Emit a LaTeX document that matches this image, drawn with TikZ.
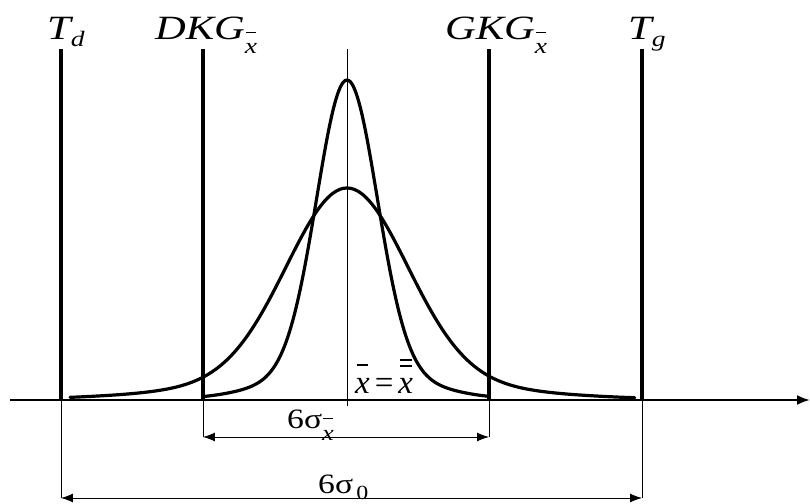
\documentclass[tikz,border=0pt]{standalone}
\usepackage{fontspec}
\usepackage{graphicx}
\setmainfont{Liberation Serif}
\usetikzlibrary{arrows.meta,positioning}
\newcommand{\barmark}{\rule{0.36em}{0.06em}}
\newcommand{\onebar}[2][0.84em]{\ooalign{\hfil\raisebox{#1}{\barmark}\hfil\cr#2\cr}}
\newcommand{\twobar}[1]{\ooalign{\hfil\raisebox{0.80em}{\barmark}\hfil\cr\hfil\raisebox{0.96em}{\barmark}\hfil\cr#1\cr}}
\newcommand{\lowsub}[2]{\raisebox{-#1}{\fontsize{22}{24}\selectfont #2}}
\newcommand{\wide}[2][1.25]{\scalebox{#1}[1]{#2}}
\tikzset{
  limit/.style={line width=3.2pt},
  curve/.style={line width=3.2pt,line join=round,line cap=round},
  axis/.style={line width=2.2pt,-{Latex[length=13pt,width=10pt]}},
  guide/.style={line width=0.9pt},
  dim/.style={line width=0.9pt,{Latex[length=12pt,width=9pt]}-{Latex[length=12pt,width=9pt]}},
  lbl/.style={inner sep=0pt,anchor=base west,font=\fontsize{34}{38}\selectfont\itshape},
  num/.style={lbl,font=\fontsize{28}{32}\selectfont\upshape}
}
\begin{document}
\begin{tikzpicture}[x=1pt,y=1pt]
\useasboundingbox (-347,-103) rectangle (463,400);
% axis
\coordinate (start) at (-337,0);
\coordinate (end) at (463,0);
\draw[axis] (start) -- (end);
% tolerance and control limits
\foreach \name/\pos in {Td/-286,DKG/-144,GKG/142,Tg/295}{
  \coordinate (\name) at (\pos,0);
  \coordinate (\name-top) at (\pos,351);
}
\draw[limit] (Td) -- (Td-top);
\draw[limit] (DKG) -- (DKG-top);
\draw[limit] (GKG) -- (GKG-top);
\draw[limit,line width=4pt] (Tg) -- (Tg-top);
% centre line
\coordinate (mid-low) at (0,-6);
\coordinate (mid-top) at (0,351);
\draw[guide] (mid-low) -- (mid-top);
% distributions
\draw[curve] plot[smooth,samples=120,domain=-1.43:1.42,variable=\t]
  ({100*\t},{320*(0.9*exp(-\t*\t/0.18)+0.1*exp(-\t*\t/0.9248))});
\draw[curve] plot[smooth,samples=160,domain=-2.77:2.88,variable=\t]
  ({100*\t},{212*(0.9*exp(-\t*\t/0.72)+0.1*exp(-\t*\t/3.6992))});
% dimension lines
\coordinate (DKG-dim) at (-144,-37);
\coordinate (GKG-dim) at (142,-37);
\coordinate (Td-dim) at (-286,-98);
\coordinate (Tg-dim) at (295,-98);
\draw[guide] (DKG) -- (DKG-dim);
\draw[guide] (GKG) -- (GKG-dim);
\draw[guide] (Td) -- (Td-dim);
\draw[guide] (Tg) -- (Tg-dim);
\draw[dim] (DKG-dim) -- (GKG-dim);
\draw[dim] (Td-dim) -- (Tg-dim);
% labels
\node[lbl] (lTd) at (-300,360) {\wide{T\lowsub{7pt}{d}}};
\node[lbl] (lDKG) at (-192,360) {\wide{DKG\lowsub{14pt}{\onebar[0.95em]{x}}}};
\node[lbl] (lGKG) at (98,360) {\wide{GKG\lowsub{14pt}{\onebar[0.95em]{x}}}};
\node[lbl] (lTg) at (281,360) {\wide{T\lowsub{7pt}{g}}};
\node[lbl,font=\fontsize{33}{36}\selectfont\itshape] (lmean) at (8,7)
  {\onebar[0.82em]{x}\hspace{0.15em}{\upshape=}\hspace{0.15em}\twobar{x}};
\node[num] (lsx) at (-60,-28) {\wide[1.2]{6σ\lowsub{12pt}{\itshape\onebar[0.95em]{x}}}};
\node[num] (lso) at (-29,-93) {\wide[1.2]{6σ\hspace{0.1em}\raisebox{-6pt}{\fontsize{20}{22}\selectfont 0}}};
\end{tikzpicture}
\end{document}
